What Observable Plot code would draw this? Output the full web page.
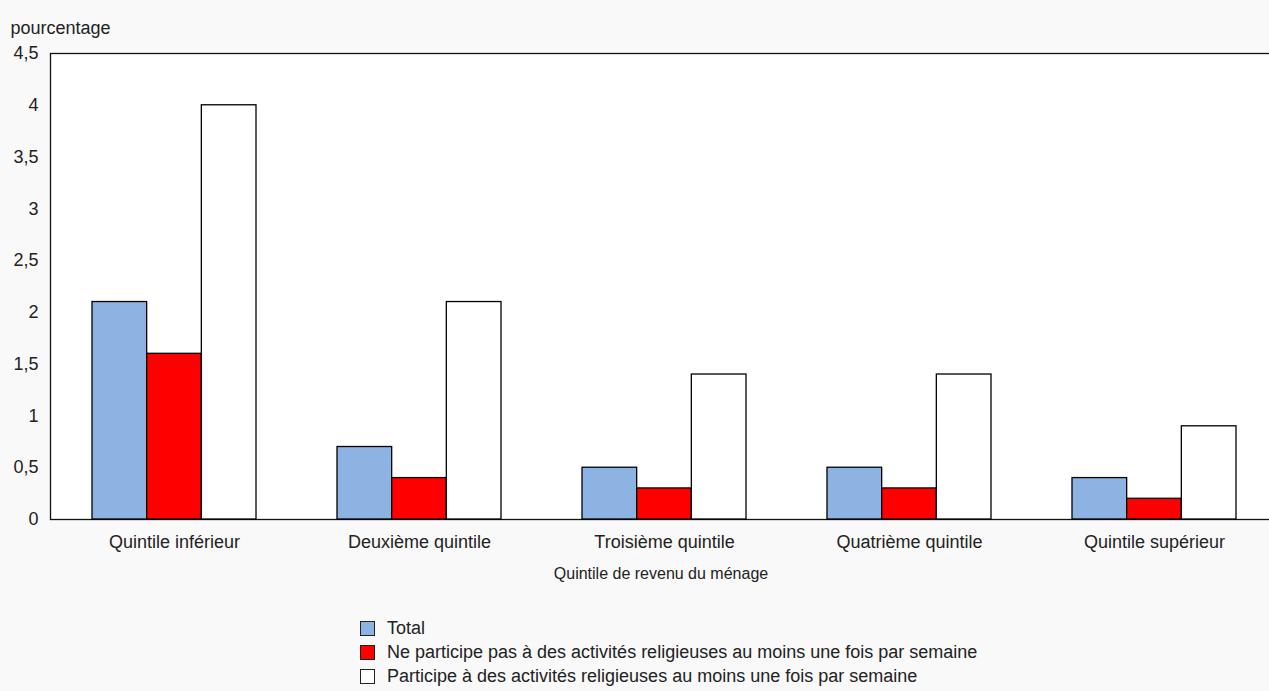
<!DOCTYPE html>
<html lang="fr">
<head>
<meta charset="utf-8">
<script src="https://cdn.jsdelivr.net/npm/d3@7"></script>
<script src="https://cdn.jsdelivr.net/npm/@observablehq/plot@0.6"></script>
<style>
  html, body { margin: 0; padding: 0; background: #f9f9f9; }
  body { width: 1269px; height: 691px; overflow: hidden;
         font-family: "Liberation Sans", Arial, sans-serif; color: #222; }
  #chart svg { display: block; overflow: visible; }
  .legend { margin-top: 16px; padding-left: 360px; font-size: 18px; }
  .legend .row { height: 24px; display: flex; align-items: center; }
  .legend .swatch { width: 13px; height: 13px; border: 1px solid #222; margin-right: 12px; box-sizing: content-box; flex: none; }
</style>
</head>
<body>
<div id="chart"></div>
<div class="legend" id="legend"></div>
<script>
// Household income quintiles (x categories)
const quintiles = [
  "Quintile inférieur",
  "Deuxième quintile",
  "Troisième quintile",
  "Quatrième quintile",
  "Quintile supérieur"
];

// Series names, in drawing order within each group
const seriesNames = [
  "Total",
  "Ne participe pas à des activités religieuses au moins une fois par semaine",
  "Participe à des activités religieuses au moins une fois par semaine"
];

// Percentages by quintile
const totalValues = [2.1, 0.7, 0.5, 0.5, 0.4];
const nonWeeklyValues = [1.6, 0.4, 0.3, 0.3, 0.2];
const weeklyValues = [4.0, 2.1, 1.4, 1.4, 0.9];

const seriesColors = ["#8db3e2", "#ff0000", "#ffffff"];

// Y axis tick values
const yTicks = [0, 0.5, 1, 1.5, 2, 2.5, 3, 3.5, 4, 4.5];

const seriesValues = [totalValues, nonWeeklyValues, weeklyValues];
const rows = seriesNames.flatMap((s, i) =>
  quintiles.map((q, j) => ({quintile: q, series: s, value: seriesValues[i][j]}))
);

// Band layout of the quintile groups
const xRange = [50, 1278];
const padInner = 0.332;
const padOuter = 0.167;
const band = d3.scaleBand(quintiles, xRange).paddingInner(padInner).paddingOuter(padOuter);
const third = band.bandwidth() / 3;

const font = '"Liberation Sans", Arial, sans-serif';

const chart = Plot.plot({
  width: 1269,
  height: 600,
  marginTop: 53,
  marginBottom: 81,
  marginLeft: 50,
  marginRight: -2,
  style: {fontFamily: font, fontSize: "18px", background: "transparent", color: "#222"},
  x: {domain: quintiles, range: xRange, paddingInner: padInner, paddingOuter: padOuter,
      tickSize: 0, tickPadding: 16, label: null},
  y: {domain: [0, 4.5], ticks: yTicks, tickSize: 0, tickPadding: 12, label: null,
      tickFormat: d => String(d).replace(".", ",")},
  marks: [
    Plot.frame({fill: "white", stroke: "#111", strokeWidth: 1.3}),
    ...seriesNames.map((s, i) =>
      Plot.barY(rows.filter(r => r.series === s), {
        x: "quintile",
        y: "value",
        fill: seriesColors[i],
        stroke: "#000",
        strokeWidth: 1.3,
        insetLeft: i * third,
        insetRight: (2 - i) * third
      })
    ),
    Plot.text(["pourcentage"], {frameAnchor: "top-left", textAnchor: "start", dx: -40, dy: -32, fill: "#222"}),
    Plot.text(["Quintile de revenu du ménage"], {frameAnchor: "bottom", dy: 59, fontSize: 16, fill: "#222"})
  ]
});
document.getElementById("chart").appendChild(chart);

// Legend
const legend = document.getElementById("legend");
seriesNames.forEach((s, i) => {
  const row = document.createElement("div");
  row.className = "row";
  const sw = document.createElement("span");
  sw.className = "swatch";
  sw.style.background = seriesColors[i];
  const label = document.createElement("span");
  label.textContent = s;
  row.appendChild(sw);
  row.appendChild(label);
  legend.appendChild(row);
});
</script>
</body>
</html>
